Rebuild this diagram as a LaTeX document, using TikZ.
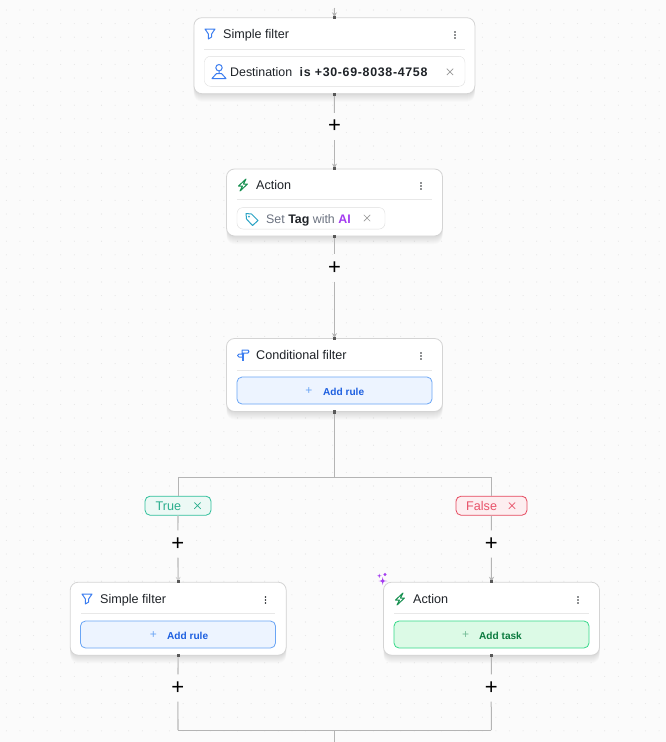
\documentclass[tikz,border=0pt]{standalone}
\usepackage{fontspec}
\setmainfont{Liberation Sans}
\usetikzlibrary{arrows.meta,shadows}
\definecolor{canvasbg}{HTML}{FBFBFB}
\definecolor{griddot}{HTML}{E4E4E4}
\definecolor{wiregray}{HTML}{B4B4B4}
\definecolor{inkdark}{HTML}{1F2328}
\definecolor{mutegray}{HTML}{6B7280}
\definecolor{filterblue}{HTML}{3B7DF0}
\definecolor{boltgreen}{HTML}{169050}
\definecolor{aipurple}{HTML}{A43CF0}
\definecolor{tagcyan}{HTML}{2AA3C4}
\definecolor{ruleedge}{HTML}{6AA5F5}
\definecolor{rulefill}{HTML}{EDF4FF}
\definecolor{ruleink}{HTML}{1D5FE0}
\definecolor{taskedge}{HTML}{35D98A}
\definecolor{taskfill}{HTML}{DCFAE6}
\definecolor{taskink}{HTML}{0A7A3E}
\definecolor{trueedge}{HTML}{2FBF9B}
\definecolor{truefill}{HTML}{ECF9F5}
\definecolor{trueink}{HTML}{2BAE8E}
\definecolor{falseedge}{HTML}{E5485D}
\definecolor{falsefill}{HTML}{FDEEF0}
\definecolor{falseink}{HTML}{E8536A}
\begin{document}
\begin{tikzpicture}[
            x=1pt, y=-1pt,
            softshade/.style={drop shadow={shadow xshift=0pt, shadow yshift=-#1, shadow scale=1, opacity=.016, fill=black}},
            card/.style={draw=black!17, line width=.8pt, fill=white, rounded corners=8pt, inner sep=0pt, minimum width=216pt, minimum height=73pt,
                softshade=8pt, softshade=7pt, softshade=6pt, softshade=5pt, softshade=4pt, softshade=3pt, softshade=2pt, softshade=1pt},
            inner/.style={draw=black!13, fill=white, rounded corners=6pt, inner sep=0pt},
            addbox/.style={rounded corners=5pt, inner sep=0pt, minimum width=195pt, minimum height=27pt, line width=.8pt},
            addrule/.style={addbox, draw=ruleedge, fill=rulefill},
            addtask/.style={addbox, draw=taskedge, fill=taskfill},
            branchpill/.style={rounded corners=5pt, inner sep=0pt, minimum height=19pt, line width=.8pt},
            title/.style={anchor=base west, inner sep=0pt, font=\fontsize{12.6}{14}\selectfont, text=inkdark},
            small/.style={anchor=base west, inner sep=0pt, font=\fontsize{12.4}{14}\selectfont, text=inkdark},
            addtext/.style={anchor=base west, inner sep=0pt, font=\fontsize{10.1}{12}\selectfont\bfseries},
            addplus/.style={inner sep=0pt, font=\fontsize{12}{12}\selectfont},
            plusbtn/.style={fill=canvasbg, inner sep=0pt, minimum width=20pt, minimum height=27pt, text=black, font=\fontsize{22}{22}\selectfont},
            port/.style={fill=black!65, inner sep=0pt, minimum size=3.2pt},
            wire/.style={draw=wiregray, line width=1pt},
            wirelight/.style={draw=black!19, line width=1.6pt},
            tip/.style={-{Stealth[length=5pt,width=5pt,fill=wiregray]}},
            divider/.style={draw=black!9, line width=.8pt},
            funnel/.pic={\draw[filterblue, line width=1pt, line join=round] (-5,-4.5) -- (5,-4.5) -- (1.6,0.5) -- (1.6,3.5) -- (-1.6,5.5) -- (-1.6,0.5) -- cycle;},
            bolt/.pic={\draw[boltgreen, line width=1pt, line join=round] (3,-6) -- (-4.5,1) -- (-0.5,1) -- (-3,6) -- (4.5,-1) -- (0.5,-1) -- cycle;},
            person/.pic={\draw[filterblue, line width=1pt] (0,-3.3) circle (3.2pt);
                \draw[filterblue, line width=1pt, line join=round] (0,0) -- (0,3) (-2.5,2.5) -- (2.5,2.5) -- (7,7.5) -- (-7,7.5) -- cycle;},
            tagicon/.pic={\draw[tagcyan, line width=1pt, line join=round] (-6,-5.5) -- (-0.5,-5) -- (6,1.5) -- (0.5,6.5) -- (-5.5,0) -- cycle;
                \fill[tagcyan] (-3,-2.5) circle (1pt);},
            signpost/.pic={\fill[filterblue] (-1,-1) rectangle (1,6);
                \draw[filterblue, line width=1pt, line join=round] (-1,-5) -- (5,-5) -- (6,-3.5) -- (5,-2) -- (-1,-2) -- cycle (1,-1) -- (-4,-1) -- (-5.5,.5) -- (-4,2) -- (-1,2);},
            closex/.pic={\draw[black!40, line width=.7pt] (-3.2,-3.2) -- (3.2,3.2) (-3.2,3.2) -- (3.2,-3.2);},
            trueclose/.pic={\draw[trueink, line width=.7pt] (-3.2,-3.2) -- (3.2,3.2) (-3.2,3.2) -- (3.2,-3.2);},
            falseclose/.pic={\draw[falseink, line width=.7pt] (-3.2,-3.2) -- (3.2,3.2) (-3.2,3.2) -- (3.2,-3.2);},
            kebab/.pic={\foreach \d in {-3,0,3} \fill[inkdark] (0,\d) circle (.9pt);},
            star/.pic={\fill[aipurple] (0,-1) .. controls (.12,-.12) .. (1,0) .. controls (.12,.12) .. (0,1) .. controls (-.12,.12) .. (-1,0) .. controls (-.12,-.12) .. cycle;},
            ]
            \fill[canvasbg] (0,0) rectangle (666,742);
            \useasboundingbox (0,0) rectangle (666,742);
            % canvas dots
            \foreach \i in {0,...,48} \foreach \j in {0,...,53}
                \fill[griddot] (6.3+13.6*\i,10+13.6*\j) circle (.55pt);

            % cards
            \node[card, minimum width=281pt, minimum height=76pt] (simpleA) at (334.4,55.7) {};
            \node[card, minimum height=67pt] (action) at (334.5,202.5) {};
            \node[card] (cond) at (334.5,375) {};
            \node[card] (simpleB) at (178.2,618.7) {};
            \node[card] (actionB) at (491.5,618.7) {};

            % first filter
            \pic at (210,33.5) {funnel};
            \node[title] (simpleAtitle) at (223,38) {Simple filter};
            \pic at (455,35) {kebab};
            \draw[divider] (204,49.5) -- (465,49.5);
            \node[inner, minimum width=260.5pt, minimum height=30pt] (destbox) at (334.7,71.3) {};
            \pic at (219,71) {person};
            \node[small] (destlabel) at (230,76) {Destination};
            \node[small, font=\fontsize{12.4}{14}\selectfont\bfseries\addfontfeatures{LetterSpace=5.5}] (destvalue) at (299.5,76) {is +30-69-8038-4758};
            \pic at (450,71.8) {closex};

            % action
            \pic at (243,185) {bolt};
            \node[title] (actiontitle) at (256,189.5) {Action};
            \pic at (421,186) {kebab};
            \draw[divider] (237,199) -- (432,199);
            \node[inner, minimum width=148pt, minimum height=21.5pt] (tagbox) at (311,218.3) {};
            \pic at (252,219) {tagicon};
            \node[small] (taglabel) at (266,223) {\textcolor{mutegray}{Set} \textbf{Tag} \textcolor{mutegray}{with} \textcolor{aipurple}{\textbf{AI}}};
            \pic at (367,218) {closex};

            % conditional filter
            \pic at (243,355) {signpost};
            \node[title] (condtitle) at (256,359.5) {Conditional filter};
            \pic at (421,356) {kebab};
            \draw[divider] (237,370.5) -- (432,370.5);
            \node[addrule] (condrule) at (334.5,390.5) {};
            \node[addplus, text=ruleedge] (condplus) at (309,391) {+};
            \node[addtext, text=ruleink] (condadd) at (323,395) {Add rule};

            % branch labels
            \node[branchpill, draw=trueedge, fill=truefill, minimum width=66pt] (truepill) at (178,505.7) {};
            \node[title, text=trueink] (truelabel) at (155.5,510) {True};
            \pic at (197.5,505.7) {trueclose};
            \node[branchpill, draw=falseedge, fill=falsefill, minimum width=71pt] (falsepill) at (491.5,505.7) {};
            \node[title, text=falseink] (falselabel) at (466,510) {False};
            \pic at (512,505.7) {falseclose};

            % lower filter
            \pic at (87,598.5) {funnel};
            \node[title] (simpleBtitle) at (100,603) {Simple filter};
            \pic at (265.5,600) {kebab};
            \draw[divider] (81,613.5) -- (275,613.5);
            \node[addrule] (simpleBrule) at (178,634.5) {};
            \node[addplus, text=ruleedge] (simpleBplus) at (153.5,635) {+};
            \node[addtext, text=ruleink] (simpleBadd) at (167,639) {Add rule};

            % lower action
            \pic at (400,599) {bolt};
            \node[title] (actionBtitle) at (413,603) {Action};
            \pic at (578,600) {kebab};
            \draw[divider] (394,613.5) -- (589,613.5);
            \node[addtask] (actionBtask) at (491.5,634.5) {};
            \node[addplus, text=boltgreen!60] (actionBplus) at (465.5,635) {+};
            \node[addtext, text=taskink] (actionBadd) at (479,639) {Add task};
            \pic[scale=4.2] at (382.7,581) {star};
            \pic[scale=2.2] at (379.3,575.8) {star};
            \pic[scale=1.6] at (385,574.5) {star};

            % plus buttons
            \node[plusbtn] (plusA) at (334.5,126.5) {+};
            \node[plusbtn] (plusB) at (334.5,268) {+};
            \node[plusbtn] (plusC) at (177.8,544) {+};
            \node[plusbtn] (plusD) at (491.2,544) {+};
            \node[plusbtn] (plusE) at (177.8,688) {+};
            \node[plusbtn] (plusF) at (491.2,688) {+};

            % free ends
            \coordinate (topend) at (334.5,8);
            \coordinate (split) at (334.5,477);
            \coordinate (joinL) at (178,730);
            \coordinate (joinR) at (491.3,730);
            \coordinate (join) at (334.5,730);
            \coordinate (bottomend) at (334.5,742);

            % wires
            \draw[wire, tip] (topend) -- (simpleA.north);
            \draw[wire] (simpleA.south) -- (plusA);
            \draw[wire, tip] (plusA) -- (action.north);
            \draw[wire] (action.south) -- (plusB);
            \draw[wire, tip] (plusB) -- (cond.north);
            \draw[wire] (cond.south) -- (split);
            \draw[wire] (split) -| (truepill.north);
            \draw[wire] (split) -| (falsepill.north);
            \draw[wirelight] (truepill.south) -- (plusC);
            \draw[wirelight, tip] (plusC) -- (simpleB.north);
            \draw[wire] (falsepill.south) -- (plusD);
            \draw[wire, tip] (plusD) -- (actionB.north);
            \draw[wirelight] (simpleB.south) -- (plusE);
            \draw[wirelight] (plusE) -- (joinL);
            \draw[wire] (joinL) -- (joinR);
            \draw[wire] (actionB.south) -- (plusF);
            \draw[wire] (plusF) -- (joinR);
            \draw[wire] (join) -- (bottomend);

            % ports
            \foreach \c in {simpleA.north,simpleA.south,action.north,action.south,cond.north,cond.south,simpleB.north,simpleB.south,actionB.north,actionB.south}
                \node[port] at (\c) {};
\end{tikzpicture}
\end{document}
